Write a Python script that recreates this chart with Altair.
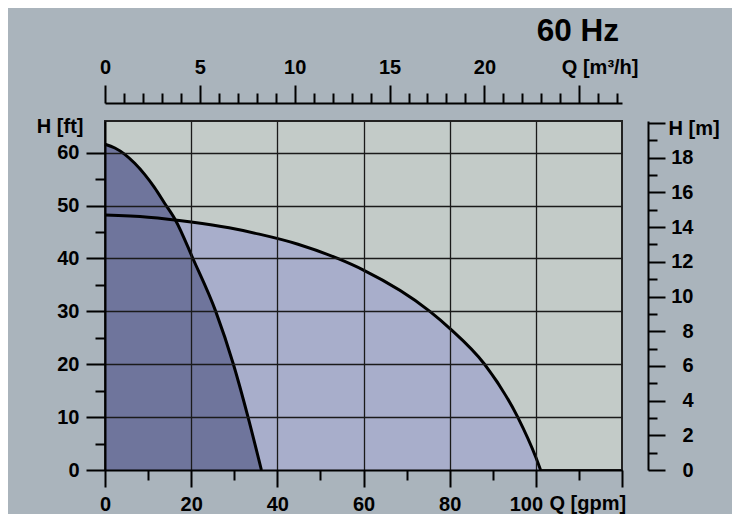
import altair as alt
import pandas as pd

# Pump curve 1 (steep, dark fill): flow Q [gpm] vs head H [ft]
q1 = [0, 2.3, 4.6, 6.9, 9.2, 11.5, 13.8, 16.4, 20.4, 25.7, 29.8, 33.2, 36.3]
h1 = [61.6, 60.9, 59.7, 58.0, 55.9, 53.4, 50.5, 47.2, 40.0, 30.0, 20.0, 10.0, 0.0]

# Pump curve 2 (flat, light fill)
q2 = [0, 10, 20, 28.8, 35.8, 44.8, 54, 60, 75.4, 80, 88.1, 95.8, 100, 101.1]
h2 = [48.2, 47.8, 46.9, 45.8, 44.6, 42.7, 40.0, 37.8, 30.0, 26.8, 20.0, 10.0, 2.4, 0.0]

# axis ranges and unit conversions
Q_MAX = 120          # gpm
H_MAX = 66           # ft
GPM_PER_M3H = 4.40287
FT_PER_M = 3.28084

gpm_ticks = list(range(0, 121, 10))
ft_ticks = list(range(0, 61, 5))
m3h_ticks = list(range(0, 28))
m_ticks = list(range(0, 21))

df1 = pd.DataFrame({"q": q1, "h": h1})
df2 = pd.DataFrame({"q": q2, "h": h2})

FONT = "Liberation Sans"
FS = 20

xscale = alt.Scale(domain=[0, Q_MAX], nice=False, zero=False)
yscale = alt.Scale(domain=[0, H_MAX], nice=False, zero=False)

x_axis = alt.Axis(
    orient="bottom",
    values=gpm_ticks,
    title="Q [gpm]",
    titleX=444, titleY=39, titleAlign="left", titleBaseline="alphabetic", titleAngle=0,
    tickSize={"condition": {"test": "datum.value % 20 === 0", "value": 17}, "value": 10},
    labelExpr="datum.value % 20 === 0 && datum.value <= 100 ? datum.label : ''",
    labelOffset={"condition": {"test": "datum.value === 100", "value": -10}, "value": 0},
    labelPadding=7,
    grid=True,
    gridOpacity={"condition": {"test": "datum.value % 20 === 0 && datum.value > 0 && datum.value < 120", "value": 1}, "value": 0},
    labelFlush=False, labelOverlap=False,
    zindex=1,
)

y_axis = alt.Axis(
    orient="left",
    values=ft_ticks,
    title="H [ft]",
    titleX=-22, titleY=5, titleAlign="right", titleBaseline="middle", titleAngle=0,
    tickSize={"condition": {"test": "datum.value % 10 === 0", "value": 19}, "value": 10},
    labelExpr="datum.value % 10 === 0 ? datum.label : ''",
    labelPadding=7,
    grid=True,
    gridOpacity={"condition": {"test": "datum.value % 10 === 0 && datum.value > 0", "value": 1}, "value": 0},
    labelFlush=False, labelOverlap=False,
    zindex=1,
)

X = alt.X("q:Q", scale=xscale, axis=x_axis)
Y = alt.Y("h:Q", scale=yscale, axis=y_axis)

area2 = alt.Chart(df2).mark_area(color="#a8aecb", opacity=1, interpolate="monotone").encode(x=X, y=Y)
area1 = alt.Chart(df1).mark_area(color="#6f759c", opacity=1, interpolate="monotone").encode(x=X, y=Y)
line2 = alt.Chart(df2).mark_line(color="black", strokeWidth=3, interpolate="monotone").encode(x=X, y=Y)
line1 = alt.Chart(df1).mark_line(color="black", strokeWidth=3, interpolate="monotone").encode(x=X, y=Y)

base = alt.layer(area2, area1, line2, line1)

top_axis = alt.Axis(
    orient="top", offset=18,
    values=m3h_ticks,
    title="Q [m³/h]",
    titleX=533, titleY=-30, titleAlign="right", titleBaseline="alphabetic", titleAngle=0,
    tickSize={"condition": {"test": "datum.value % 5 === 0", "value": 18}, "value": 10},
    labelExpr="datum.value % 5 === 0 && datum.value < 25 ? datum.label : ''",
    labelPadding=8,
    grid=False, labelFlush=False, labelOverlap=False,
)

right_axis = alt.Axis(
    orient="right", offset=26,
    values=m_ticks,
    title="H [m]",
    titleX=20, titleY=7, titleAlign="left", titleBaseline="middle", titleAngle=0,
    tickSize={"condition": {"test": "datum.value % 2 === 0", "value": 17}, "value": 9},
    labelExpr="datum.value % 2 === 0 && datum.value < 20 ? datum.label : ''",
    labelAlign="right",
    labelPadding=28,
    grid=False, labelFlush=False, labelOverlap=False,
)

unit_layer = (
    alt.Chart(df2)
    .transform_calculate(qm=f"datum.q / {GPM_PER_M3H}", hm=f"datum.h / {FT_PER_M}")
    .mark_line(opacity=0)
    .encode(
        x=alt.X("qm:Q", scale=alt.Scale(domain=[0, Q_MAX / GPM_PER_M3H], nice=False, zero=False), axis=top_axis),
        y=alt.Y("hm:Q", scale=alt.Scale(domain=[0, H_MAX / FT_PER_M], nice=False, zero=False), axis=right_axis),
    )
)

chart = (
    alt.layer(base, unit_layer)
    .resolve_scale(x="independent", y="independent")
    .properties(
        width=517,
        height=349,
        autosize=alt.AutoSizeParams(type="none"),
        padding={"left": 97, "top": 113, "right": 110, "bottom": 44},
        background="#aab4bc",
        title=alt.TitleParams(
            text="60 Hz", anchor="end", frame="group", fontSize=31.5, font=FONT, fontWeight="bold",
            color="black", offset=8, dx=-3, dy=-2,
        ),
    )
    .configure_view(fill="#c3cbc8", stroke="#222222", strokeWidth=2)
    .configure_axis(
        labelFont=FONT, labelFontSize=FS, labelFontWeight="bold", labelColor="black",
        titleFont=FONT, titleFontSize=FS, titleFontWeight="bold", titleColor="black",
        domainColor="black", domainWidth=2,
        tickColor="black", tickWidth=2,
        gridColor="#1a1a1a", gridWidth=1.3,
    )
)

chart.save("out.html", embed_options={"renderer": "svg", "actions": False})
